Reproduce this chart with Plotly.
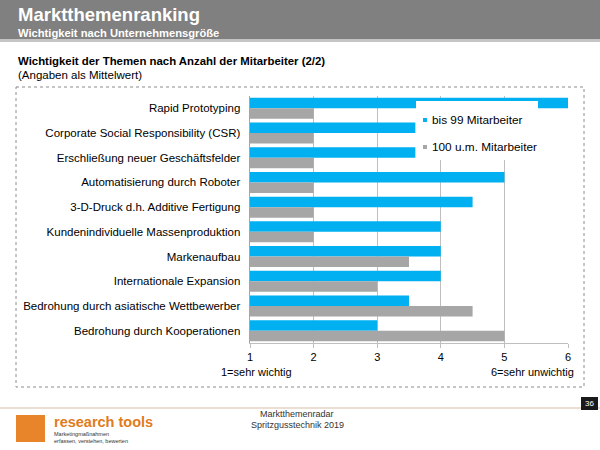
import plotly.graph_objects as go

categories = [
    "Rapid Prototyping",
    "Corporate Social Responsibility (CSR)",
    "Erschließung neuer Geschäftsfelder",
    "Automatisierung durch Roboter",
    "3-D-Druck d.h. Additive Fertigung",
    "Kundenindividuelle Massenproduktion",
    "Markenaufbau",
    "Internationale Expansion",
    "Bedrohung durch asiatische Wettbewerber",
    "Bedrohung durch Kooperationen",
]
small_firms = [6, 3.6, 3.6, 5, 4.5, 4, 4, 4, 3.5, 3]
large_firms = [2, 2, 2, 2, 2, 2, 3.5, 3, 4.5, 5]
series_names = ["bis 99 Mitarbeiter", "100 u.m. Mitarbeiter"]
series_colors = ["#00B0F0", "#A6A6A6"]
x_ticks = [1, 2, 3, 4, 5, 6]

W, H = 600, 450
L, R, T, B = 250, 568, 96, 343

def px(x):
    return (x - L) / (R - L)

def py(y):
    return (B - y) / (B - T)

FONT = "Liberation Sans, Arial, sans-serif"

fig = go.Figure()
for vals, name, col in zip([small_firms, large_firms], series_names, series_colors):
    fig.add_trace(go.Bar(y=categories, x=[v - 1 for v in vals], base=1, orientation="h",
                         name=name, showlegend=False, marker=dict(color=col, line=dict(width=0))))

shapes = []
ann = []

def rect(x0, y0, x1, y1, fill, layer="below", line=None):
    shapes.append(dict(type="rect", xref="paper", yref="paper", x0=px(x0), x1=px(x1), y0=py(y0), y1=py(y1),
                       fillcolor=fill, line=line or dict(width=0), layer=layer))

def text(x, y, s, size, color="#000000", bold=False, xanchor="left", yanchor="middle"):
    if bold:
        s = "<b>" + s + "</b>"
    ann.append(dict(xref="paper", yref="paper", x=px(x), y=py(y), text=s, showarrow=False,
                    xanchor=xanchor, yanchor=yanchor, font=dict(size=size, color=color, family=FONT)))

# header band
rect(0, 0, 600, 39, "#808080")
rect(0, 39, 600, 42, "#c4c4c4")
# dotted frame
shapes.append(dict(type="rect", xref="paper", yref="paper", x0=px(16), x1=px(584), y0=py(87), y1=py(387),
                   line=dict(color="#8c8c8c", width=1, dash="dot"), layer="below"))
# footer line
shapes.append(dict(type="line", xref="paper", yref="paper", x0=px(0), x1=px(600), y0=py(408), y1=py(408),
                   line=dict(color="#eadfd2", width=2)))
# page number box
rect(581, 397, 598, 410, "#1a1a1a", layer="above")
# logo square
rect(16, 415, 45, 442, "#E8852A")

# manual legend (white box drawn over the bars, as in the reference)
rect(416, 101, 538, 160, "#ffffff", layer="above")
leg_y = [120, 147]
for yy, name, col in zip(leg_y, series_names, series_colors):
    rect(423, yy - 2, 427, yy + 2, col, layer="above")
    text(430, yy, name, 11.8)

text(16, 14, "Marktthemenranking", 18.5, "#ffffff", True)
text(16, 33, "Wichtigkeit nach Unternehmensgröße", 11.2, "#ffffff", True)
text(16, 61, "Wichtigkeit der Themen nach Anzahl der Mitarbeiter (2/2)", 11.4, "#000000", True)
text(16, 75, "(Angaben als Mittelwert)", 11.5)
text(219, 372, "1=sehr wichtig", 11, xanchor="left")
text(576, 372, "6=sehr unwichtig", 11, xanchor="right")
text(589.5, 403.5, "36", 8, "#ffffff", xanchor="center")
text(52, 422, "research tools", 14.5, "#E07B20", True)
text(52, 434, "Marketingmaßnahmen", 5.5, "#333333")
text(52, 441, "erfassen, verstehen, bewerten", 5.5, "#333333")
text(297, 414, "Marktthemenradar", 9, "#333333", xanchor="center")
text(297, 425, "Spritzgusstechnik 2019", 9, "#333333", xanchor="center")

fig.update_layout(
    width=W, height=H,
    margin=dict(l=L, r=W - R, t=T, b=H - B, pad=0),
    paper_bgcolor="#ffffff", plot_bgcolor="#ffffff",
    barmode="group", bargap=0.15, bargroupgap=0.0,
    font=dict(family=FONT, size=12, color="#000000"),
    shapes=shapes, annotations=ann, showlegend=False,
    xaxis=dict(range=[1, 6], tickvals=x_ticks, ticktext=[str(t) for t in x_ticks],
               showgrid=True, gridcolor="#bfbfbf", gridwidth=1, zeroline=False,
               showline=True, linecolor="#bfbfbf", mirror=False,
               ticks="outside", ticklen=4, tickcolor="#bfbfbf",
               tickfont=dict(size=11, color="#000000")),
    yaxis=dict(autorange="reversed", showline=True, linecolor="#a6a6a6", ticks="",
               ticksuffix="  ", tickfont=dict(size=11.5, color="#000000"), showgrid=False),
)
fig.write_html("out.html", config={"displayModeBar": False},
               post_script="document.body.style.margin='0';document.body.style.padding='0';")
